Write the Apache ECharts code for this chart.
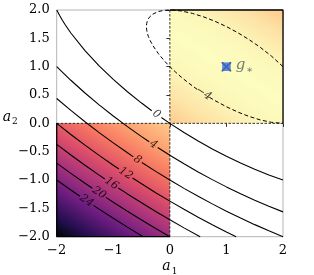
<!DOCTYPE html>
<html><head><meta charset="utf-8">
<script src="https://cdn.jsdelivr.net/npm/echarts@6/dist/echarts.min.js"></script>
<style>html,body{margin:0;padding:0;background:#fff}#c{width:314px;height:275px}</style>
</head><body><div id="c"></div>
<script>
const xTicks = [-2, -1, 0, 1, 2];
const yTicks = [-2, -1.5, -1, -0.5, 0, 0.5, 1, 1.5, 2];
const gStar = [[1, 1]];
const quadrants = [[-2, -2, 0, 0], [0, 0, 2, 2]];
// shading profile along the short axis of the level ellipses through g*
const shadeAxis = [0.526, 0.851];
const shadeS = [-4.15, -3.95, -3.8, -3.4, -3.0, -2.6, -2.2, -1.8, -1.377, -1.0, -0.5, 0, 0.5, 1.0, 1.377, 1.45];
const shadeColors = ['#000004', '#130c30', '#290f53', '#6d1d80', '#a9337c', '#db4d69', '#f67662', '#fda371', '#feca8d', '#fde2a5', '#fcf7b9', '#fcfdbf', '#fcf7b9', '#fde2a5', '#feca8d', '#fec589'];

const level0Line = [
  [[-2,2],[-1.95,1.906],[-1.9,1.820],[-1.85,1.740],[-1.75,1.594],[-1.5,1.282],[-1.25,1.014],[-1,0.775],[-0.75,0.558],[-0.5,0.358],[-0.32,0.223]],
  [[-0.15,0.102],[0,0],[0.25,-0.161],[0.5,-0.311],[0.75,-0.451],[1,-0.581],[1.25,-0.701],[1.5,-0.811],[1.75,-0.911],[2,-1.0]]
];
const level4Line = [
  [[-2,1],[-1.75,0.760],[-1.5,0.536],[-1.25,0.327],[-1,0.129],[-0.75,-0.057],[-0.5,-0.234],[-0.365,-0.326]],
  [[-0.215,-0.425],[0,-0.562],[0.25,-0.713],[0.5,-0.857],[0.75,-0.993],[1,-1.121],[1.25,-1.243],[1.5,-1.357],[1.75,-1.463],[2,-1.562]]
];
const level8Line = [
  [[-2,0.438],[-1.75,0.228],[-1.5,0.028],[-1.25,-0.163],[-1,-0.345],[-0.75,-0.520],[-0.645,-0.591]],
  [[-0.495,-0.690],[-0.25,-0.847],[0,-1.0],[0.25,-1.147],[0.5,-1.287],[0.75,-1.421],[1,-1.550],[1.25,-1.671],[1.5,-1.787],[1.75,-1.897],[2,-2.0]]
];
const level12Line = [
  [[-2,0],[-1.75,-0.196],[-1.5,-0.384],[-1.25,-0.565],[-1,-0.739],[-0.9,-0.806]],
  [[-0.66,-0.965],[-0.5,-1.067],[-0.25,-1.223],[0,-1.372],[0.25,-1.516],[0.5,-1.655],[0.75,-1.788],[1,-1.916],[1.172,-2]]
];
const level16Line = [
  [[-2,-0.372],[-1.75,-0.559],[-1.5,-0.740],[-1.25,-0.914],[-1.15,-0.982]],
  [[-0.91,-1.141],[-0.75,-1.245],[-0.5,-1.402],[-0.25,-1.555],[0,-1.702],[0.25,-1.844],[0.536,-2]]
];
const level20Line = [
  [[-2,-0.702],[-1.75,-0.882],[-1.5,-1.057],[-1.37,-1.146]],
  [[-1.13,-1.306],[-1,-1.391],[-0.75,-1.551],[-0.5,-1.705],[-0.25,-1.855],[0,-2]]
];
const level24Line = [
  [[-2,-1],[-1.75,-1.176],[-1.59,-1.286]],
  [[-1.35,-1.447],[-1.25,-1.513],[-1,-1.674],[-0.75,-1.831],[-0.472,-2]]
];
const levelNeg4Line = [
  [[2,1.0],[1.8,1.183],[1.6,1.340],[1.4,1.478],[1.2,1.6],[1,1.707],[0.8,1.8],[0.6,1.878],[0.4,1.940],[0.2,1.983],[0.1,1.995],[0,2.0],[-0.1,1.994],[-0.2,1.974],[-0.3,1.928],[-0.35,1.886],[-0.38,1.845],[-0.4,1.8],[-0.41,1.760],[-0.414,1.707],[-0.41,1.651],[-0.4,1.6],[-0.38,1.535],[-0.35,1.464],[-0.3,1.372],[-0.2,1.226],[-0.1,1.106],[0,1.0],[0.1,0.905],[0.2,0.817],[0.3,0.736],[0.4,0.660],[0.49,0.595]],
  [[0.70,0.459],[0.8,0.4],[1,0.293],[1.2,0.2],[1.4,0.122],[1.6,0.060],[1.8,0.017],[2,0.0]]
];
const contourLabelText = ['0', '4', '8', '12', '16', '20', '24', '\u22124'];
const contourLabelPos = [[-0.235,0.162],[-0.29,-0.376],[-0.57,-0.641],[-0.78,-0.886],[-1.03,-1.062],[-1.25,-1.227],[-1.47,-1.367],[0.595,0.527]];
const contourLabelAngle = [-35.5, -33.4, -33.5, -33.4, -33.6, -33.7, -33.9, -32.9];

const SERIF = 'DejaVu Serif';
const fmtMinus = s => String(s).replace('-', '\u2212');

function renderShade(params, api) {
  const x0 = api.value(0), y0 = api.value(1), x1 = api.value(2), y1 = api.value(3);
  const tl = api.coord([x0, y1]), br = api.coord([x1, y0]);
  const c = gStar[0];
  const n = shadeS.length - 1;
  const g0 = api.coord([c[0] + shadeS[0] * shadeAxis[0], c[1] + shadeS[0] * shadeAxis[1]]);
  const g1 = api.coord([c[0] + shadeS[n] * shadeAxis[0], c[1] + shadeS[n] * shadeAxis[1]]);
  const span = shadeS[n] - shadeS[0];
  return {
    type: 'rect',
    shape: { x: tl[0], y: tl[1], width: br[0] - tl[0], height: br[1] - tl[1] },
    style: {
      fill: {
        type: 'linear', x: g0[0], y: g0[1], x2: g1[0], y2: g1[1], global: true,
        colorStops: shadeS.map((s, i) => ({ offset: (s - shadeS[0]) / span, color: shadeColors[i] }))
      }
    }
  };
}

const series = [];
series.push({ type: 'custom', renderItem: renderShade, data: quadrants, encode: { x: [0, 2], y: [1, 3] }, z: 1, silent: true });

function addLine(pts, style, z) {
  series.push({ type: 'line', data: pts, showSymbol: false, symbol: 'none', lineStyle: style, z: z, silent: true, clip: false, animation: false });
}
const solidStyle = { color: '#000', width: 1.1 };
[level0Line, level4Line, level8Line, level12Line, level16Line, level20Line, level24Line].forEach(segs => segs.forEach(s => addLine(s, solidStyle, 4)));
levelNeg4Line.forEach(s => addLine(s, { color: '#000', width: 1.0, type: [4, 2.5] }, 4));

// quadrant borders
const qa = quadrants[0], qb = quadrants[1];
addLine([[qa[0], qa[3]], [qa[0], qa[1]], [qa[2], qa[1]]], { color: '#000', width: 1.3 }, 3);
addLine([[qa[0], qa[3]], [qa[2], qa[3]], [qa[2], qa[1]]], { color: '#000', width: 0.8, type: [2.5, 1.5] }, 3);
addLine([[qb[0], qb[3]], [qb[2], qb[3]], [qb[2], qb[1]]], { color: '#000', width: 1.3 }, 3);
addLine([[qb[0], qb[3]], [qb[0], qb[1]], [qb[2], qb[1]]], { color: '#000', width: 0.8, type: [2.5, 1.5] }, 3);

// contour labels
series.push({
  type: 'scatter', symbolSize: 0, z: 5, silent: true,
  data: contourLabelPos.map((p, i) => ({ value: p, label: { formatter: contourLabelText[i], rotate: contourLabelAngle[i] } })),
  label: { show: true, position: 'inside', color: '#000', fontFamily: SERIF, fontStyle: 'italic', fontSize: 11 }
});

// g* marker
series.push({
  type: 'scatter', data: gStar, z: 6, silent: true,
  symbol: 'path://M0,0L1.4,0L5,3.6L8.6,0L10,0L10,1.4L6.4,5L10,8.6L10,10L8.6,10L5,6.4L1.4,10L0,10L0,8.6L3.6,5L0,1.4Z',
  symbolSize: 9.6, itemStyle: { color: '#1e2430' }
});
series.push({
  type: 'scatter', data: gStar, z: 7, silent: true,
  symbol: 'rect', symbolSize: 8.6, itemStyle: { color: '#3a6de0' },
  label: {
    show: true, position: 'right', distance: 5, formatter: '{g|g}{s|\u2217}',
    rich: {
      g: { fontFamily: SERIF, fontStyle: 'italic', fontSize: 15, color: '#505a66', verticalAlign: 'top' },
      s: { fontFamily: SERIF, fontSize: 10, color: '#505a66', verticalAlign: 'top', padding: [8, 0, 0, 1] }
    }
  }
});

const chart = echarts.init(document.getElementById('c'), null, { renderer: 'canvas' });
chart.setOption({
  animation: false,
  backgroundColor: '#fff',
  grid: { left: 56.7, right: 31, top: 10, bottom: 38.3, containLabel: false, outerBoundsMode: 'none', show: true, borderColor: '#b4b4b4', borderWidth: 1, backgroundColor: 'transparent' },
  xAxis: {
    type: 'value', min: xTicks[0], max: xTicks[xTicks.length - 1], interval: 1,
    axisLine: { show: false }, splitLine: { show: false },
    axisTick: { show: true, length: 3.5, lineStyle: { color: '#000', width: 0.8 } },
    axisLabel: { color: '#000', fontFamily: SERIF, fontSize: 13, margin: 7, formatter: v => fmtMinus(v) },
    name: '{a|a}{s|1}', nameLocation: 'middle', nameGap: 23, nameMoveOverlap: false,
    nameTextStyle: { rich: {
      a: { fontFamily: SERIF, fontStyle: 'italic', fontSize: 14, color: '#000', verticalAlign: 'top' },
      s: { fontFamily: SERIF, fontSize: 9, color: '#000', verticalAlign: 'top', padding: [7, 0, 0, 1] } } }
  },
  yAxis: {
    type: 'value', min: yTicks[0], max: yTicks[yTicks.length - 1], interval: 0.5,
    axisLine: { show: false }, splitLine: { show: false },
    axisTick: { show: true, length: 3.5, lineStyle: { color: '#000', width: 0.8 } },
    axisLabel: { color: '#000', fontFamily: SERIF, fontSize: 13, margin: 7, formatter: v => fmtMinus(v.toFixed(1)) },
    name: '{a|a}{s|2}', nameLocation: 'middle', nameGap: 39, nameRotate: 0, nameMoveOverlap: false,
    nameTextStyle: { padding: [0, 0, 10, 0], rich: {
      a: { fontFamily: SERIF, fontStyle: 'italic', fontSize: 14, color: '#000', verticalAlign: 'top' },
      s: { fontFamily: SERIF, fontSize: 9, color: '#000', verticalAlign: 'top', padding: [7, 0, 0, 1] } } }
  },
  series: series
});
</script>
</body></html>
